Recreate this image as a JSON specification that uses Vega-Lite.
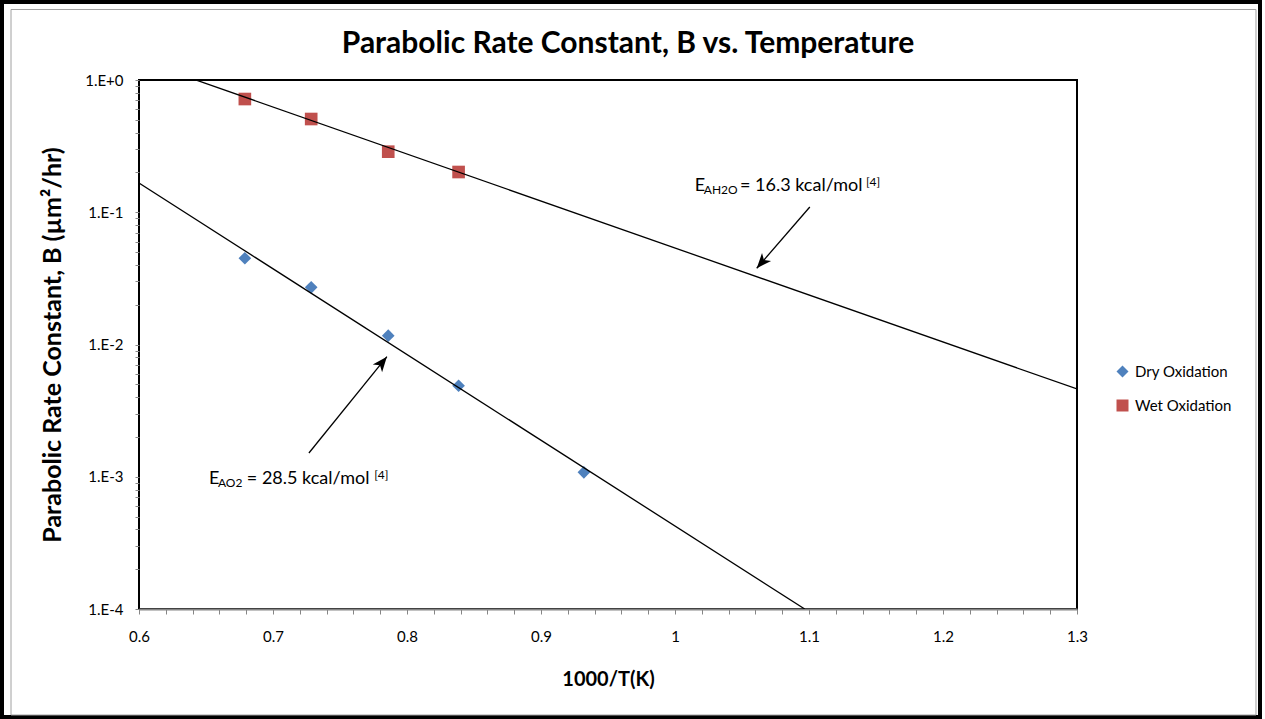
{
  "$schema": "https://vega.github.io/schema/vega-lite/v6.json",
  "width": 938,
  "height": 529,
  "autosize": {"type": "none"},
  "padding": {"left": 139, "top": 80, "right": 188, "bottom": 110},
  "background": "white",
  "config": {
    "view": {"stroke": "black", "strokeWidth": 2},
    "font": "Lato",
    "text": {"font": "Lato"},
    "axisX": {
      "labelOverlap": false, "labelFlush": false, "labelFont": "Lato", "labelFontSize": 15, "labelColor": "black", "labelPadding": 15,
      "tickSize": 5, "tickColor": "#868686", "domainColor": "#868686", "domainWidth": 2, "grid": false,
      "titleFont": "Lato", "titleFontSize": 20, "titleFontWeight": "bold", "titleColor": "black", "titlePadding": 25
    },
    "axisY": {
      "labelOverlap": false, "labelFlush": false, "labelFont": "Lato", "labelFontSize": 15, "labelColor": "black", "labelPadding": 12,
      "tickSize": 4, "tickColor": "#868686", "domain": false, "grid": false,
      "titleFont": "Lato", "titleFontSize": 25, "titleFontWeight": "bold", "titleColor": "black", "titlePadding": 19
    }
  },
  "title": {
    "text": "Parabolic Rate Constant, B vs. Temperature",
    "font": "Lato",
    "fontSize": 30,
    "fontWeight": "bold",
    "color": "black",
    "anchor": "middle",
    "frame": "group",
    "dx": 20,
    "offset": 27,
    "dy": 86
  },
  "layer": [
    {
      "data": {"values": [
        {"series": "Dry Oxidation", "x": 0.679, "y": 0.0449},
        {"series": "Dry Oxidation", "x": 0.7285, "y": 0.02707},
        {"series": "Dry Oxidation", "x": 0.786, "y": 0.01166},
        {"series": "Dry Oxidation", "x": 0.8385, "y": 0.00488},
        {"series": "Dry Oxidation", "x": 0.932, "y": 0.00108},
        {"series": "Wet Oxidation", "x": 0.679, "y": 0.718},
        {"series": "Wet Oxidation", "x": 0.7285, "y": 0.507},
        {"series": "Wet Oxidation", "x": 0.786, "y": 0.287},
        {"series": "Wet Oxidation", "x": 0.8385, "y": 0.2015}
      ]},
      "mark": {"type": "point", "filled": true, "opacity": 1, "size": 160, "strokeWidth": 0},
      "encoding": {
        "x": {"field": "x", "type": "quantitative", "scale": {"domain": [0.6, 1.3], "nice": false, "zero": false},
          "axis": {"title": "1000/T(K)", "values": [0.6, 0.62, 0.64, 0.66, 0.68, 0.7, 0.72, 0.74, 0.76, 0.78, 0.8, 0.82, 0.84, 0.86, 0.88, 0.9, 0.92, 0.94, 0.96, 0.98, 1, 1.02, 1.04, 1.06, 1.08, 1.1, 1.12, 1.14, 1.16, 1.18, 1.2, 1.22, 1.24, 1.26, 1.28, 1.3], "labelExpr": "abs(datum.value*10 - round(datum.value*10)) < 0.001 ? format(datum.value, '.2~f') : ''", "labelOverlap": false}},
        "y": {"field": "y", "type": "quantitative", "scale": {"type": "log", "domain": [0.0001, 1], "nice": false},
          "axis": {"title": "Parabolic Rate Constant, B (µm²/hr)", "values": [0.0001, 0.0002, 0.0003, 0.0004, 0.0005, 0.0006, 0.0007, 0.0008, 0.0009, 0.001, 0.002, 0.003, 0.004, 0.005, 0.006, 0.007, 0.008, 0.009, 0.01, 0.02, 0.03, 0.04, 0.05, 0.06, 0.07, 0.08, 0.09, 0.1, 0.2, 0.3, 0.4, 0.5, 0.6, 0.7, 0.8, 0.9, 1], "labelExpr": "abs(log(datum.value)/LN10 - round(log(datum.value)/LN10)) < 0.0001 ? '1.E' + (round(log(datum.value)/LN10) >= 0 ? '+' : '') + round(log(datum.value)/LN10) : ''", "labelOverlap": false}},
        "color": {
          "field": "series",
          "type": "nominal",
          "scale": {"domain": ["Dry Oxidation", "Wet Oxidation"], "range": ["#4F81BD", "#C0504D"]},
          "legend": {"title": null, "orient": "none", "legendX": 976, "legendY": 284, "labelFont": "Lato", "labelFontSize": 15, "labelColor": "black", "symbolSize": 144, "rowPadding": 18, "labelOffset": 5, "padding": 0, "symbolStrokeWidth": 0, "symbolOpacity": 1}
        },
        "shape": {
          "field": "series",
          "type": "nominal",
          "scale": {"domain": ["Dry Oxidation", "Wet Oxidation"], "range": ["diamond", "square"]},
          "legend": {"title": null, "orient": "none", "legendX": 976, "legendY": 284, "labelFont": "Lato", "labelFontSize": 15, "labelColor": "black", "symbolSize": 144, "rowPadding": 18, "labelOffset": 5, "padding": 0, "symbolStrokeWidth": 0, "symbolOpacity": 1}
        }
      }
    },
    {
      "data": {"values": [{"k": 1}]},
      "mark": {"type": "rect", "filled": false, "color": "black", "strokeWidth": 4, "clip": false},
      "encoding": {
        "x": {"datum": 0.49776, "type": "quantitative", "scale": {"domain": [0.6, 1.3], "nice": false, "zero": false},
          "axis": {"title": "1000/T(K)", "values": [0.6, 0.62, 0.64, 0.66, 0.68, 0.7, 0.72, 0.74, 0.76, 0.78, 0.8, 0.82, 0.84, 0.86, 0.88, 0.9, 0.92, 0.94, 0.96, 0.98, 1, 1.02, 1.04, 1.06, 1.08, 1.1, 1.12, 1.14, 1.16, 1.18, 1.2, 1.22, 1.24, 1.26, 1.28, 1.3], "labelExpr": "abs(datum.value*10 - round(datum.value*10)) < 0.001 ? format(datum.value, '.2~f') : ''", "labelOverlap": false}},
        "x2": {"datum": 1.43657},
        "y": {"datum": 3.889, "type": "quantitative", "scale": {"type": "log", "domain": [0.0001, 1], "nice": false},
          "axis": {"title": "Parabolic Rate Constant, B (µm²/hr)", "values": [0.0001, 0.0002, 0.0003, 0.0004, 0.0005, 0.0006, 0.0007, 0.0008, 0.0009, 0.001, 0.002, 0.003, 0.004, 0.005, 0.006, 0.007, 0.008, 0.009, 0.01, 0.02, 0.03, 0.04, 0.05, 0.06, 0.07, 0.08, 0.09, 0.1, 0.2, 0.3, 0.4, 0.5, 0.6, 0.7, 0.8, 0.9, 1], "labelExpr": "abs(log(datum.value)/LN10 - round(log(datum.value)/LN10)) < 0.0001 ? '1.E' + (round(log(datum.value)/LN10) >= 0 ? '+' : '') + round(log(datum.value)/LN10) : ''", "labelOverlap": false}},
        "y2": {"datum": 0.00001526}
      }
    },
    {
      "data": {"values": [{"k": 1}]},
      "mark": {"type": "rect", "filled": false, "color": "#a0a0a0", "strokeWidth": 1, "clip": false},
      "encoding": {
        "x": {"datum": 0.50448, "type": "quantitative", "scale": {"domain": [0.6, 1.3], "nice": false, "zero": false},
          "axis": {"title": "1000/T(K)", "values": [0.6, 0.62, 0.64, 0.66, 0.68, 0.7, 0.72, 0.74, 0.76, 0.78, 0.8, 0.82, 0.84, 0.86, 0.88, 0.9, 0.92, 0.94, 0.96, 0.98, 1, 1.02, 1.04, 1.06, 1.08, 1.1, 1.12, 1.14, 1.16, 1.18, 1.2, 1.22, 1.24, 1.26, 1.28, 1.3], "labelExpr": "abs(datum.value*10 - round(datum.value*10)) < 0.001 ? format(datum.value, '.2~f') : ''", "labelOverlap": false}},
        "x2": {"datum": 1.43358},
        "y": {"datum": 3.4127, "type": "quantitative", "scale": {"type": "log", "domain": [0.0001, 1], "nice": false},
          "axis": {"title": "Parabolic Rate Constant, B (µm²/hr)", "values": [0.0001, 0.0002, 0.0003, 0.0004, 0.0005, 0.0006, 0.0007, 0.0008, 0.0009, 0.001, 0.002, 0.003, 0.004, 0.005, 0.006, 0.007, 0.008, 0.009, 0.01, 0.02, 0.03, 0.04, 0.05, 0.06, 0.07, 0.08, 0.09, 0.1, 0.2, 0.3, 0.4, 0.5, 0.6, 0.7, 0.8, 0.9, 1], "labelExpr": "abs(log(datum.value)/LN10 - round(log(datum.value)/LN10)) < 0.0001 ? '1.E' + (round(log(datum.value)/LN10) >= 0 ? '+' : '') + round(log(datum.value)/LN10) : ''", "labelOverlap": false}},
        "y2": {"datum": 0.000015791}
      }
    },
    {
      "data": {"values": [
        {"series": "Wet Oxidation", "x": 0.6, "y": 1.416},
        {"series": "Wet Oxidation", "x": 1.3, "y": 0.004608},
        {"series": "Dry Oxidation", "x": 0.6, "y": 0.1663},
        {"series": "Dry Oxidation", "x": 1.0968, "y": 0.0001}
      ]},
      "mark": {"type": "line", "color": "black", "strokeWidth": 1.3, "clip": true},
      "encoding": {
        "x": {"field": "x", "type": "quantitative", "scale": {"domain": [0.6, 1.3], "nice": false, "zero": false},
          "axis": {"title": "1000/T(K)", "values": [0.6, 0.62, 0.64, 0.66, 0.68, 0.7, 0.72, 0.74, 0.76, 0.78, 0.8, 0.82, 0.84, 0.86, 0.88, 0.9, 0.92, 0.94, 0.96, 0.98, 1, 1.02, 1.04, 1.06, 1.08, 1.1, 1.12, 1.14, 1.16, 1.18, 1.2, 1.22, 1.24, 1.26, 1.28, 1.3], "labelExpr": "abs(datum.value*10 - round(datum.value*10)) < 0.001 ? format(datum.value, '.2~f') : ''", "labelOverlap": false}},
        "y": {"field": "y", "type": "quantitative", "scale": {"type": "log", "domain": [0.0001, 1], "nice": false},
          "axis": {"title": "Parabolic Rate Constant, B (µm²/hr)", "values": [0.0001, 0.0002, 0.0003, 0.0004, 0.0005, 0.0006, 0.0007, 0.0008, 0.0009, 0.001, 0.002, 0.003, 0.004, 0.005, 0.006, 0.007, 0.008, 0.009, 0.01, 0.02, 0.03, 0.04, 0.05, 0.06, 0.07, 0.08, 0.09, 0.1, 0.2, 0.3, 0.4, 0.5, 0.6, 0.7, 0.8, 0.9, 1], "labelExpr": "abs(log(datum.value)/LN10 - round(log(datum.value)/LN10)) < 0.0001 ? '1.E' + (round(log(datum.value)/LN10) >= 0 ? '+' : '') + round(log(datum.value)/LN10) : ''", "labelOverlap": false}},
        "detail": {"field": "series"}
      }
    },
    {
      "data": {"values": [
        {"x": 1.061, "y": 0.03769, "x2": 1.1006, "y2": 0.1096},
        {"x": 0.785, "y": 0.008085, "x2": 0.7268, "y2": 0.001512}
      ]},
      "mark": {"type": "rule", "color": "black", "strokeWidth": 1.3},
      "encoding": {
        "x": {"field": "x", "type": "quantitative", "scale": {"domain": [0.6, 1.3], "nice": false, "zero": false},
          "axis": {"title": "1000/T(K)", "values": [0.6, 0.62, 0.64, 0.66, 0.68, 0.7, 0.72, 0.74, 0.76, 0.78, 0.8, 0.82, 0.84, 0.86, 0.88, 0.9, 0.92, 0.94, 0.96, 0.98, 1, 1.02, 1.04, 1.06, 1.08, 1.1, 1.12, 1.14, 1.16, 1.18, 1.2, 1.22, 1.24, 1.26, 1.28, 1.3], "labelExpr": "abs(datum.value*10 - round(datum.value*10)) < 0.001 ? format(datum.value, '.2~f') : ''", "labelOverlap": false}},
        "y": {"field": "y", "type": "quantitative", "scale": {"type": "log", "domain": [0.0001, 1], "nice": false},
          "axis": {"title": "Parabolic Rate Constant, B (µm²/hr)", "values": [0.0001, 0.0002, 0.0003, 0.0004, 0.0005, 0.0006, 0.0007, 0.0008, 0.0009, 0.001, 0.002, 0.003, 0.004, 0.005, 0.006, 0.007, 0.008, 0.009, 0.01, 0.02, 0.03, 0.04, 0.05, 0.06, 0.07, 0.08, 0.09, 0.1, 0.2, 0.3, 0.4, 0.5, 0.6, 0.7, 0.8, 0.9, 1], "labelExpr": "abs(log(datum.value)/LN10 - round(log(datum.value)/LN10)) < 0.0001 ? '1.E' + (round(log(datum.value)/LN10) >= 0 ? '+' : '') + round(log(datum.value)/LN10) : ''", "labelOverlap": false}},
        "x2": {"field": "x2"},
        "y2": {"field": "y2"}
      }
    },
    {
      "data": {"values": [{"x": 1.061, "y": 0.03769}]},
      "mark": {"type": "point", "shape": "M0,0L-0.6,1.5L0,1.1L0.6,1.5Z", "filled": true, "color": "black", "opacity": 1, "size": 400, "strokeWidth": 0, "angle": 220.9},
      "encoding": {
        "x": {"field": "x", "type": "quantitative", "scale": {"domain": [0.6, 1.3], "nice": false, "zero": false},
          "axis": {"title": "1000/T(K)", "values": [0.6, 0.62, 0.64, 0.66, 0.68, 0.7, 0.72, 0.74, 0.76, 0.78, 0.8, 0.82, 0.84, 0.86, 0.88, 0.9, 0.92, 0.94, 0.96, 0.98, 1, 1.02, 1.04, 1.06, 1.08, 1.1, 1.12, 1.14, 1.16, 1.18, 1.2, 1.22, 1.24, 1.26, 1.28, 1.3], "labelExpr": "abs(datum.value*10 - round(datum.value*10)) < 0.001 ? format(datum.value, '.2~f') : ''", "labelOverlap": false}},
        "y": {"field": "y", "type": "quantitative", "scale": {"type": "log", "domain": [0.0001, 1], "nice": false},
          "axis": {"title": "Parabolic Rate Constant, B (µm²/hr)", "values": [0.0001, 0.0002, 0.0003, 0.0004, 0.0005, 0.0006, 0.0007, 0.0008, 0.0009, 0.001, 0.002, 0.003, 0.004, 0.005, 0.006, 0.007, 0.008, 0.009, 0.01, 0.02, 0.03, 0.04, 0.05, 0.06, 0.07, 0.08, 0.09, 0.1, 0.2, 0.3, 0.4, 0.5, 0.6, 0.7, 0.8, 0.9, 1], "labelExpr": "abs(log(datum.value)/LN10 - round(log(datum.value)/LN10)) < 0.0001 ? '1.E' + (round(log(datum.value)/LN10) >= 0 ? '+' : '') + round(log(datum.value)/LN10) : ''", "labelOverlap": false}}
      }
    },
    {
      "data": {"values": [{"x": 0.785, "y": 0.008085}]},
      "mark": {"type": "point", "shape": "M0,0L-0.6,1.5L0,1.1L0.6,1.5Z", "filled": true, "color": "black", "opacity": 1, "size": 400, "strokeWidth": 0, "angle": 39.1},
      "encoding": {
        "x": {"field": "x", "type": "quantitative", "scale": {"domain": [0.6, 1.3], "nice": false, "zero": false},
          "axis": {"title": "1000/T(K)", "values": [0.6, 0.62, 0.64, 0.66, 0.68, 0.7, 0.72, 0.74, 0.76, 0.78, 0.8, 0.82, 0.84, 0.86, 0.88, 0.9, 0.92, 0.94, 0.96, 0.98, 1, 1.02, 1.04, 1.06, 1.08, 1.1, 1.12, 1.14, 1.16, 1.18, 1.2, 1.22, 1.24, 1.26, 1.28, 1.3], "labelExpr": "abs(datum.value*10 - round(datum.value*10)) < 0.001 ? format(datum.value, '.2~f') : ''", "labelOverlap": false}},
        "y": {"field": "y", "type": "quantitative", "scale": {"type": "log", "domain": [0.0001, 1], "nice": false},
          "axis": {"title": "Parabolic Rate Constant, B (µm²/hr)", "values": [0.0001, 0.0002, 0.0003, 0.0004, 0.0005, 0.0006, 0.0007, 0.0008, 0.0009, 0.001, 0.002, 0.003, 0.004, 0.005, 0.006, 0.007, 0.008, 0.009, 0.01, 0.02, 0.03, 0.04, 0.05, 0.06, 0.07, 0.08, 0.09, 0.1, 0.2, 0.3, 0.4, 0.5, 0.6, 0.7, 0.8, 0.9, 1], "labelExpr": "abs(log(datum.value)/LN10 - round(log(datum.value)/LN10)) < 0.0001 ? '1.E' + (round(log(datum.value)/LN10) >= 0 ? '+' : '') + round(log(datum.value)/LN10) : ''", "labelOverlap": false}}
      }
    },
    {
      "data": {"values": [
        {"x": 1.0148, "y": 0.1447, "text": "E"},
        {"x": 1.0485, "y": 0.1447, "text": "= 16.3  kcal/mol"},
        {"x": 0.6522, "y": 0.000881, "text": "E"},
        {"x": 0.6805, "y": 0.000881, "text": "= 28.5 kcal/mol"}
      ]},
      "mark": {"type": "text", "align": "left", "baseline": "alphabetic", "font": "Lato", "fontSize": 18, "color": "black"},
      "encoding": {
        "x": {"field": "x", "type": "quantitative", "scale": {"domain": [0.6, 1.3], "nice": false, "zero": false},
          "axis": {"title": "1000/T(K)", "values": [0.6, 0.62, 0.64, 0.66, 0.68, 0.7, 0.72, 0.74, 0.76, 0.78, 0.8, 0.82, 0.84, 0.86, 0.88, 0.9, 0.92, 0.94, 0.96, 0.98, 1, 1.02, 1.04, 1.06, 1.08, 1.1, 1.12, 1.14, 1.16, 1.18, 1.2, 1.22, 1.24, 1.26, 1.28, 1.3], "labelExpr": "abs(datum.value*10 - round(datum.value*10)) < 0.001 ? format(datum.value, '.2~f') : ''", "labelOverlap": false}},
        "y": {"field": "y", "type": "quantitative", "scale": {"type": "log", "domain": [0.0001, 1], "nice": false},
          "axis": {"title": "Parabolic Rate Constant, B (µm²/hr)", "values": [0.0001, 0.0002, 0.0003, 0.0004, 0.0005, 0.0006, 0.0007, 0.0008, 0.0009, 0.001, 0.002, 0.003, 0.004, 0.005, 0.006, 0.007, 0.008, 0.009, 0.01, 0.02, 0.03, 0.04, 0.05, 0.06, 0.07, 0.08, 0.09, 0.1, 0.2, 0.3, 0.4, 0.5, 0.6, 0.7, 0.8, 0.9, 1], "labelExpr": "abs(log(datum.value)/LN10 - round(log(datum.value)/LN10)) < 0.0001 ? '1.E' + (round(log(datum.value)/LN10) >= 0 ? '+' : '') + round(log(datum.value)/LN10) : ''", "labelOverlap": false}},
        "text": {"field": "text"}
      }
    },
    {
      "data": {"values": [
        {"x": 1.0215, "y": 0.1447, "text": "AH2O"},
        {"x": 0.6589, "y": 0.000881, "text": "AO2"}
      ]},
      "mark": {"type": "text", "align": "left", "baseline": "alphabetic", "font": "Lato", "fontSize": 12, "dy": 3, "color": "black"},
      "encoding": {
        "x": {"field": "x", "type": "quantitative", "scale": {"domain": [0.6, 1.3], "nice": false, "zero": false},
          "axis": {"title": "1000/T(K)", "values": [0.6, 0.62, 0.64, 0.66, 0.68, 0.7, 0.72, 0.74, 0.76, 0.78, 0.8, 0.82, 0.84, 0.86, 0.88, 0.9, 0.92, 0.94, 0.96, 0.98, 1, 1.02, 1.04, 1.06, 1.08, 1.1, 1.12, 1.14, 1.16, 1.18, 1.2, 1.22, 1.24, 1.26, 1.28, 1.3], "labelExpr": "abs(datum.value*10 - round(datum.value*10)) < 0.001 ? format(datum.value, '.2~f') : ''", "labelOverlap": false}},
        "y": {"field": "y", "type": "quantitative", "scale": {"type": "log", "domain": [0.0001, 1], "nice": false},
          "axis": {"title": "Parabolic Rate Constant, B (µm²/hr)", "values": [0.0001, 0.0002, 0.0003, 0.0004, 0.0005, 0.0006, 0.0007, 0.0008, 0.0009, 0.001, 0.002, 0.003, 0.004, 0.005, 0.006, 0.007, 0.008, 0.009, 0.01, 0.02, 0.03, 0.04, 0.05, 0.06, 0.07, 0.08, 0.09, 0.1, 0.2, 0.3, 0.4, 0.5, 0.6, 0.7, 0.8, 0.9, 1], "labelExpr": "abs(log(datum.value)/LN10 - round(log(datum.value)/LN10)) < 0.0001 ? '1.E' + (round(log(datum.value)/LN10) >= 0 ? '+' : '') + round(log(datum.value)/LN10) : ''", "labelOverlap": false}},
        "text": {"field": "text"}
      }
    },
    {
      "data": {"values": [
        {"x": 1.1425, "y": 0.1447, "text": "[4]"},
        {"x": 0.7755, "y": 0.000881, "text": "[4]"}
      ]},
      "mark": {"type": "text", "align": "left", "baseline": "alphabetic", "font": "Lato", "fontSize": 12, "dy": -5, "color": "black"},
      "encoding": {
        "x": {"field": "x", "type": "quantitative", "scale": {"domain": [0.6, 1.3], "nice": false, "zero": false},
          "axis": {"title": "1000/T(K)", "values": [0.6, 0.62, 0.64, 0.66, 0.68, 0.7, 0.72, 0.74, 0.76, 0.78, 0.8, 0.82, 0.84, 0.86, 0.88, 0.9, 0.92, 0.94, 0.96, 0.98, 1, 1.02, 1.04, 1.06, 1.08, 1.1, 1.12, 1.14, 1.16, 1.18, 1.2, 1.22, 1.24, 1.26, 1.28, 1.3], "labelExpr": "abs(datum.value*10 - round(datum.value*10)) < 0.001 ? format(datum.value, '.2~f') : ''", "labelOverlap": false}},
        "y": {"field": "y", "type": "quantitative", "scale": {"type": "log", "domain": [0.0001, 1], "nice": false},
          "axis": {"title": "Parabolic Rate Constant, B (µm²/hr)", "values": [0.0001, 0.0002, 0.0003, 0.0004, 0.0005, 0.0006, 0.0007, 0.0008, 0.0009, 0.001, 0.002, 0.003, 0.004, 0.005, 0.006, 0.007, 0.008, 0.009, 0.01, 0.02, 0.03, 0.04, 0.05, 0.06, 0.07, 0.08, 0.09, 0.1, 0.2, 0.3, 0.4, 0.5, 0.6, 0.7, 0.8, 0.9, 1], "labelExpr": "abs(log(datum.value)/LN10 - round(log(datum.value)/LN10)) < 0.0001 ? '1.E' + (round(log(datum.value)/LN10) >= 0 ? '+' : '') + round(log(datum.value)/LN10) : ''", "labelOverlap": false}},
        "text": {"field": "text"}
      }
    }
  ]
}
